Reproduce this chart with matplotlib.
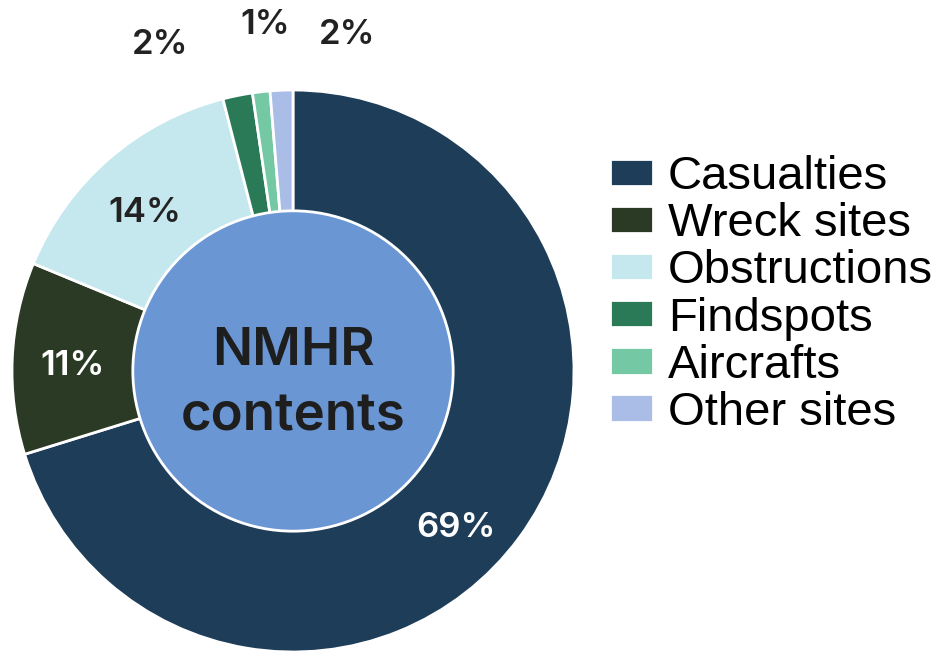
import matplotlib.pyplot as plt
from matplotlib.patches import Circle

# NMHR contents share, clockwise from 12 o'clock
names = ['Casualties', 'Wreck sites', 'Obstructions', 'Findspots', 'Aircrafts', 'Other sites']
shares = [70.0, 11.0, 14.7, 1.7, 1.0, 1.3]
pct_labels = ['69%', '11%', '14%', '2%', '1%', '2%']
colors = ['#1e3d58', '#2a3a24', '#c4e8ee', '#2a7a57', '#74c9a4', '#a9bde6']

# label placement (data coords, pie radius = 1) and colour
label_xy = [(0.580, -0.560), (-0.786, 0.018), (-0.527, 0.562),
            (-0.473, 1.160), (-0.100, 1.231), (0.192, 1.196)]
label_col = ['white', 'white', '#222222', '#222222', '#222222', '#222222']

fig = plt.figure(figsize=(9.42, 6.51), dpi=100)
W, H = 942, 651
cx, cy, R, half = 293, 371, 281, 300
ax = fig.add_axes([(cx - half) / W, (H - cy - half) / H, 2 * half / W, 2 * half / H])

wedges, _ = ax.pie(shares, colors=colors, startangle=90, counterclock=False, radius=1,
                   wedgeprops=dict(edgecolor='white', linewidth=2))
ax.add_patch(Circle((0, 0), 0.57, facecolor='#6a96d4', edgecolor='white', linewidth=2, zorder=3))
lim = half / R
ax.set_xlim(-lim, lim)
ax.set_ylim(-lim, lim)
ax.axis('off')

for txt, (x, y), c in zip(pct_labels, label_xy, label_col):
    ax.text(x, y, txt, ha='center', va='center', color=c, fontsize=25,
            family='Inter', weight='semibold', zorder=4, clip_on=False)

ax.text(0, 0.021, 'NMHR', ha='center', va='baseline', fontsize=38, color='#1e1e1e',
        family='Inter', weight='semibold', zorder=4)
ax.text(0, -0.21, 'contents', ha='center', va='baseline', fontsize=38, color='#1e1e1e',
        family='Inter', weight='semibold', zorder=4)

fig.legend(wedges, names, loc='center left', bbox_to_anchor=(610 / W, (H - 295) / H),
           frameon=False, prop=dict(family='Liberation Sans', size=34),
           handlelength=0.91, handleheight=0.51, handletextpad=0.32,
           labelspacing=0.066, borderpad=0, borderaxespad=0)

fig.savefig('out.png', dpi=100)
